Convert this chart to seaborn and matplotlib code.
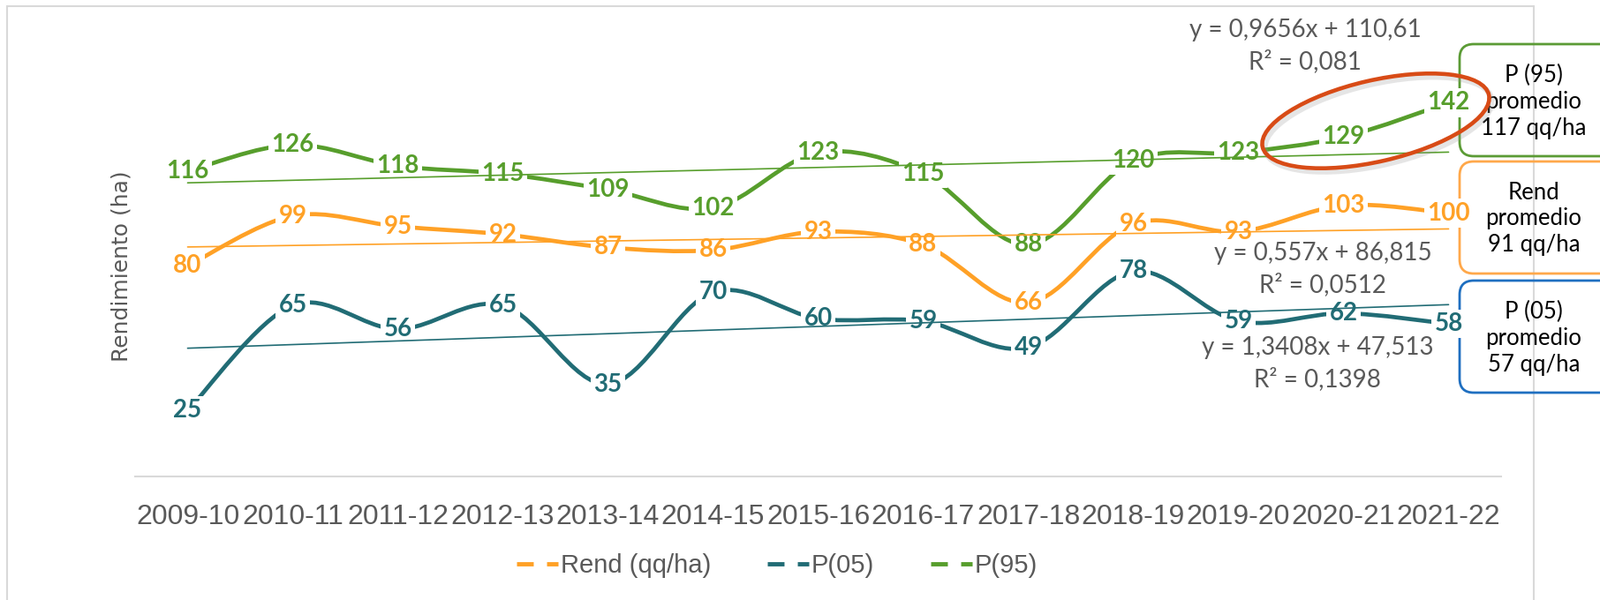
import numpy as np
import matplotlib
matplotlib.use('Agg')
import matplotlib.pyplot as plt
import seaborn as sns
from matplotlib.path import Path
from matplotlib.patches import PathPatch, FancyBboxPatch, Ellipse, Rectangle
from matplotlib.lines import Line2D
from matplotlib.transforms import IdentityTransform

# campaign labels and yields
campaigns = ['2009-10', '2010-11', '2011-12', '2012-13', '2013-14', '2014-15', '2015-16',
             '2016-17', '2017-18', '2018-19', '2019-20', '2020-21', '2021-22']
rend = [80, 99, 95, 92, 87, 86, 93, 88, 66, 96, 93, 103, 100]
p05 = [25, 65, 56, 65, 35, 70, 60, 59, 49, 78, 59, 62, 58]
p95 = [116, 126, 118, 115, 109, 102, 123, 115, 88, 120, 123, 129, 142]

series_names = ['Rend (qq/ha)', 'P(05)', 'P(95)']
series_values = [rend, p05, p95]
colors = ['#FFA126', '#216C75', '#579E2C']

trend_labels = ['y = 0,557x + 86,815\nR² = 0,0512',
                'y = 1,3408x + 47,513\nR² = 0,1398',
                'y = 0,9656x + 110,61\nR² = 0,081']
box_labels = ['Rend\npromedio\n91 qq/ha', 'P (05)\npromedio\n57 qq/ha', 'P (95)\npromedio\n117 qq/ha']
box_colors = ['#FFA84A', '#1F6FC0', '#5B9B35']

W, H = 1812, 680
GRAY = '#595959'
SANS = ['Liberation Sans', 'DejaVu Sans']

sns.set_theme(style='white')
plt.rcParams['font.family'] = ['Lato', 'DejaVu Sans']


# Excel-like smoothed line: cubic bezier segments through the points
def smooth_path(xs, ys):
    pts = np.column_stack([xs, ys]).astype(float)
    n = len(pts)
    verts = [pts[0]]
    codes = [Path.MOVETO]
    for i in range(n - 1):
        p0 = pts[max(i - 1, 0)]
        p1 = pts[i]
        p2 = pts[i + 1]
        p3 = pts[min(i + 2, n - 1)]
        verts += [p1 + (p2 - p0) / 6, p2 - (p3 - p1) / 6, p2]
        codes += [Path.CURVE4] * 3
    return Path(verts, codes)


fig = plt.figure(figsize=(W / 100, H / 100), dpi=100)
ax = fig.add_axes([153 / W, 140 / H, 1547 / W, 537 / H])
ax.set_zorder(1)

x = np.arange(len(campaigns))
for vals, col in zip(series_values, colors):
    ax.add_patch(PathPatch(smooth_path(x, vals), fill=False, edgecolor=col, lw=3.4,
                           capstyle='round', zorder=2))
    for xi, v in zip(x, vals):
        ax.text(xi, v, str(v), ha='center', va='center', color=col, fontsize=20,
                fontweight='bold', zorder=4, clip_on=False,
                bbox=dict(boxstyle='square,pad=0.12', fc='white', ec='none'))
    # linear trendline
    sns.regplot(x=x, y=vals, ci=None, scatter=False, ax=ax,
                line_kws=dict(color=col, lw=1.2, zorder=5))

ax.set_xlim(-0.5, 12.5)
ax.set_ylim(0, 180)
ax.set_xticks(x)
ax.set_xticklabels(campaigns, fontsize=23, color=GRAY, family=SANS)
ax.tick_params(axis='x', length=0, pad=22)
ax.set_yticks([])
for s in ['top', 'left', 'right']:
    ax.spines[s].set_visible(False)
ax.spines['bottom'].set_color('#d9d9d9')
ax.spines['bottom'].set_linewidth(1.5)
ax.set_xlabel('')
ax.set_ylabel('Rendimiento (ha)', fontsize=18, color=GRAY, family=['DejaVu Sans'])
ax.yaxis.set_label_coords(-0.002, 0.443)
ax.patch.set_alpha(0)

# chart area border
fig.add_artist(Rectangle((8 / W, -0.05), (1737 - 8) / W, (H - 7) / H + 0.05,
                         transform=fig.transFigure, fill=False, ec='#d9d9d9', lw=1.5, zorder=0))

# trendline equations
eq_pos = [(1498, 305), (1492, 412), (1478, 52)]
for txt, (px, py) in zip(trend_labels, eq_pos):
    fig.text(px / W, 1 - py / H, txt, ha='center', va='center', fontsize=20,
             color=GRAY, linespacing=1.4)

# average boxes on the right
box_tops = [183, 318, 50]
for txt, col, top in zip(box_labels, box_colors, box_tops):
    fig.add_artist(FancyBboxPatch((1653, H - top - 127), 175, 127,
                                  boxstyle='round,pad=0,rounding_size=16',
                                  transform=IdentityTransform(), fc='none', ec=col, lw=2,
                                  zorder=0.5))
    fig.text(1737 / W, 1 - (top + 65) / H, txt, ha='center', va='center', fontsize=18.5,
             color='black', linespacing=1.25)

# highlight ellipse with a soft shadow
fig.add_artist(Ellipse((1561, H - 141), 263, 92, angle=13, transform=IdentityTransform(),
                       fill=False, ec='#9a9a9a', lw=4.5, alpha=0.25, zorder=9))
fig.add_artist(Ellipse((1558, H - 137), 263, 92, angle=13, transform=IdentityTransform(),
                       fill=False, ec='#D84B16', lw=3.3, zorder=10))

handles = [Line2D([], [], color=c, lw=3.5, linestyle=(0, (3.9, 3.1))) for c in colors]
fig.legend(handles, series_names, loc='center', bbox_to_anchor=(880 / W, 1 - 641 / H), ncol=3,
           frameon=False, prop=dict(family=SANS, size=21), labelcolor=GRAY,
           handlelength=1.6, handletextpad=0.1, columnspacing=2.2)

fig.savefig('out.png', dpi=100)
